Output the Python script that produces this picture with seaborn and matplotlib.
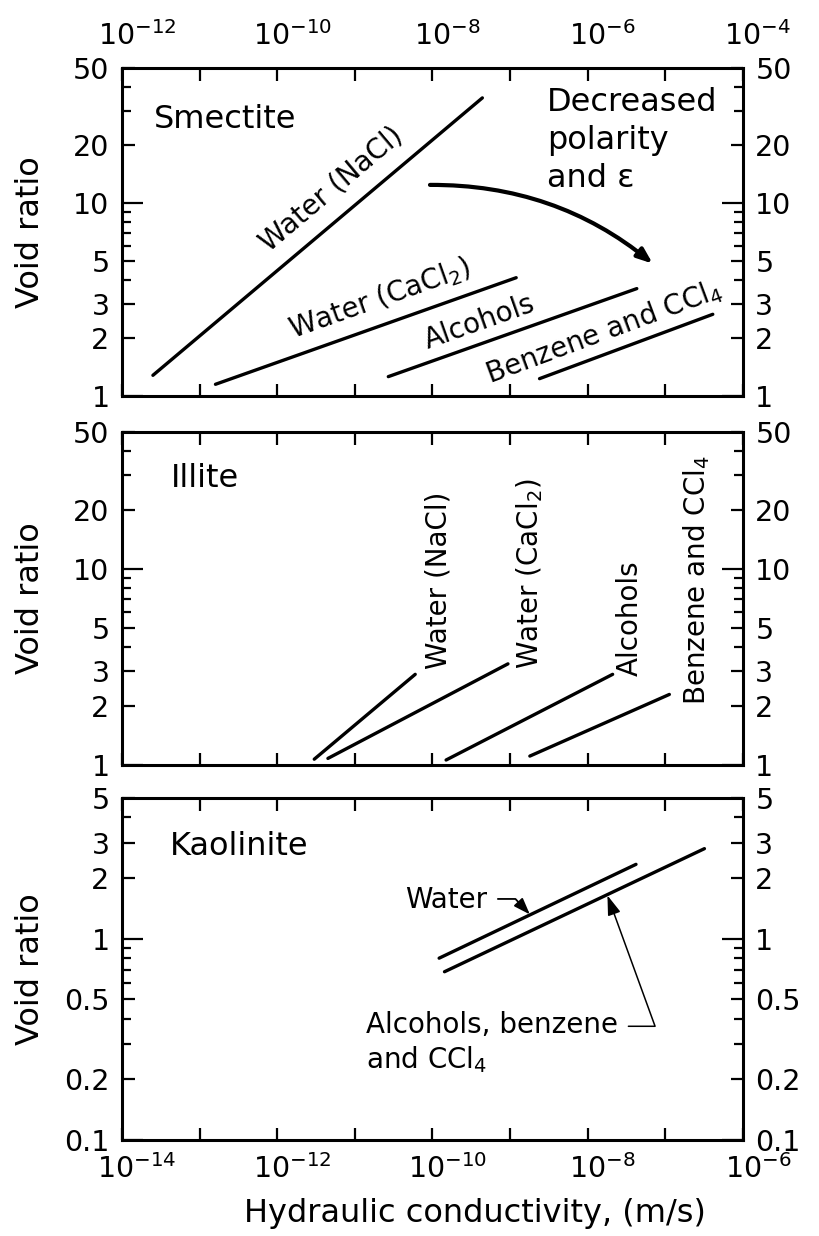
import numpy as np
import pandas as pd
import matplotlib
matplotlib.use("Agg")
import matplotlib.pyplot as plt
import matplotlib.transforms as mtransforms
from matplotlib.ticker import FixedLocator, FixedFormatter, NullFormatter
import seaborn as sns

# ---- data: hydraulic conductivity (m/s) vs void ratio, end points of each trend ----
smectite_fluids = ["Water (NaCl)", "Water (CaCl$_2$)", "Alcohols", "Benzene and CCl$_4$"]
smectite_k_low = [2.5e-12, 1.6e-11, 2.7e-9, 2.4e-7]
smectite_e_low = [1.28, 1.15, 1.26, 1.23]
smectite_k_high = [4.4e-8, 1.2e-7, 4.3e-6, 4.1e-5]
smectite_e_high = [35.0, 4.1, 3.6, 2.65]

illite_fluids = ["Water (NaCl)", "Water (CaCl$_2$)", "Alcohols", "Benzene and CCl$_4$"]
illite_k_low = [3.0e-12, 4.5e-12, 1.5e-10, 1.8e-9]
illite_e_low = [1.07, 1.08, 1.06, 1.11]
illite_k_high = [6.0e-11, 9.4e-10, 2.1e-8, 1.13e-7]
illite_e_high = [2.9, 3.28, 2.9, 2.29]

kaolinite_fluids = ["Water", "Alcohols, benzene and CCl$_4$"]
kaolinite_k_low = [1.22e-10, 1.43e-10]
kaolinite_e_low = [0.80, 0.685]
kaolinite_k_high = [4.2e-8, 3.2e-7]
kaolinite_e_high = [2.34, 2.8]

# ---- axis ticks ----
smectite_k_ticks = [1e-12, 1e-11, 1e-10, 1e-9, 1e-8, 1e-7, 1e-6, 1e-5, 1e-4]
smectite_k_labels = ["$10^{-12}$", "", "$10^{-10}$", "", "$10^{-8}$", "",
                     "$10^{-6}$", "", "$10^{-4}$"]
lower_k_ticks = [1e-14, 1e-13, 1e-12, 1e-11, 1e-10, 1e-9, 1e-8, 1e-7, 1e-6]
lower_k_labels = ["$10^{-14}$", "", "$10^{-12}$", "", "$10^{-10}$", "",
                  "$10^{-8}$", "", "$10^{-6}$"]
void_ticks_hi = [1, 2, 3, 5, 10, 20, 50]
void_labels_hi = ["1", "2", "3", "5", "10", "20", "50"]
void_minor_hi = [4, 6, 7, 8, 9, 30, 40]
void_ticks_lo = [0.1, 0.2, 0.5, 1, 2, 3, 5]
void_labels_lo = ["0.1", "0.2", "0.5", "1", "2", "3", "5"]
void_minor_lo = [0.3, 0.4, 0.6, 0.7, 0.8, 0.9, 4]

sns.set_style("white")
plt.rcParams["font.family"] = ["DejaVu Sans"]
plt.rcParams["mathtext.fontset"] = "dejavusans"
for key in ("text.color", "axes.labelcolor", "xtick.color", "ytick.color",
            "axes.edgecolor"):
    plt.rcParams[key] = "black"

fig = plt.figure(figsize=(8.19, 12.36), dpi=100)
fig.patch.set_facecolor("white")

LEFT, WIDTH = 0.149, 0.758
ax_s = fig.add_axes([LEFT, 0.6796, WIDTH, 0.2654])
ax_i = fig.add_axes([LEFT, 0.3811, WIDTH, 0.2694])
ax_k = fig.add_axes([LEFT, 0.0777, WIDTH, 0.2767])

LW = 2.4
TICK_FS = 20.5
LABEL_FS = 23
NAME_FS = 23
CURVE_FS = 20


def frame(frame_ax, xlim, ylim, yt, yl, ym):
    frame_ax.set_xscale("log")
    frame_ax.set_yscale("log")
    frame_ax.set_xlim(*xlim)
    frame_ax.set_ylim(*ylim)
    for sp in frame_ax.spines.values():
        sp.set_visible(True)
        sp.set_linewidth(2.2)
        sp.set_color("black")
    frame_ax.yaxis.set_major_locator(FixedLocator(yt))
    frame_ax.yaxis.set_major_formatter(FixedFormatter(yl))
    frame_ax.yaxis.set_minor_locator(FixedLocator(ym))
    frame_ax.yaxis.set_minor_formatter(NullFormatter())
    frame_ax.xaxis.set_minor_locator(FixedLocator([]))
    frame_ax.tick_params(axis="y", which="both", direction="in", left=True, right=True,
                         labelleft=True, labelright=True, labelsize=TICK_FS, pad=9,
                         width=1.6, color="black", labelcolor="black")
    frame_ax.tick_params(axis="y", which="major", length=9)
    frame_ax.tick_params(axis="y", which="minor", length=6.5)
    frame_ax.tick_params(axis="x", which="major", direction="in", top=True, bottom=True,
                         length=9, width=1.6, labelsize=TICK_FS, color="black",
                         labelcolor="black")
    # decade ticks on the void-ratio axis are drawn longer
    for loc, tk in zip(yt, frame_ax.yaxis.get_major_ticks()):
        if abs(np.log10(loc) - round(np.log10(loc))) < 1e-9:
            tk.tick1line.set_markersize(15)
            tk.tick2line.set_markersize(15)
    frame_ax.set_ylabel("Void ratio", fontsize=LABEL_FS, color="black")
    frame_ax.yaxis.label.set_verticalalignment("center")
    frame_ax.yaxis.set_label_coords(-0.147, 0.5)
    frame_ax.set_xlabel("")
    frame_ax.grid(False)


def draw_lines(line_ax, fluids, k0, e0, k1, e1):
    df = pd.DataFrame({
        "fluid": list(fluids) * 2,
        "k": list(k0) + list(k1),
        "e": list(e0) + list(e1),
    })
    sns.lineplot(data=df, x="k", y="e", hue="fluid", palette={f: "black" for f in fluids},
                 estimator=None, sort=False, legend=False, linewidth=LW, ax=line_ax)
    line_ax.set_xlabel("")


def line_angle(a, x0, y0, x1, y1):
    p = a.transData.transform([(x0, y0), (x1, y1)])
    return np.degrees(np.arctan2(p[1, 1] - p[0, 1], p[1, 0] - p[0, 0]))


label_shift = mtransforms.ScaledTranslation(0.15, 0, fig.dpi_scale_trans)

# ---------------- Smectite ----------------
frame(ax_s, (1e-12, 1e-4), (1, 50), void_ticks_hi, void_labels_hi, void_minor_hi)
ax_s.xaxis.set_major_locator(FixedLocator(smectite_k_ticks))
ax_s.xaxis.set_major_formatter(FixedFormatter(smectite_k_labels))
ax_s.tick_params(axis="x", labeltop=True, labelbottom=False, pad=12)
draw_lines(ax_s, smectite_fluids, smectite_k_low, smectite_e_low,
           smectite_k_high, smectite_e_high)
ax_s.text(2.6e-12, 27, "Smectite", fontsize=NAME_FS, ha="left", va="center")
ax_s.text(3.0e-7, 40, "Decreased\npolarity\nand \u03b5", fontsize=NAME_FS,
          ha="left", va="top", linespacing=1.3)
smectite_label_pos = [(5.0e-10, 11.8), (2.1e-9, 3.2), (4.1e-8, 2.4), (1.6e-6, 2.15)]
for i, (lx, ly) in enumerate(smectite_label_pos):
    ang = line_angle(ax_s, smectite_k_low[i], smectite_e_low[i],
                     smectite_k_high[i], smectite_e_high[i])
    ax_s.text(lx, ly, smectite_fluids[i], fontsize=CURVE_FS, rotation=ang,
              rotation_mode="anchor", ha="center", va="center")
ax_s.annotate("", xy=(6.9e-6, 4.85), xytext=(9.3e-9, 12.4),
              arrowprops=dict(arrowstyle="-|>,head_length=0.9,head_width=0.35",
                              connectionstyle="arc3,rad=-0.18", color="black",
                              lw=3.0, shrinkA=0, shrinkB=0))

# ---------------- Illite ----------------
frame(ax_i, (1e-14, 1e-6), (1, 50), void_ticks_hi, void_labels_hi, void_minor_hi)
ax_i.xaxis.set_major_locator(FixedLocator(lower_k_ticks))
ax_i.xaxis.set_major_formatter(NullFormatter())
ax_i.tick_params(axis="x", labeltop=False, labelbottom=False)
draw_lines(ax_i, illite_fluids, illite_k_low, illite_e_low, illite_k_high, illite_e_high)
ax_i.text(4.2e-14, 29, "Illite", fontsize=NAME_FS, ha="left", va="center")
illite_label_pos = [(1.2e-10, 3.1), (1.8e-9, 3.1), (3.5e-8, 2.86), (2.5e-7, 2.02)]
for (lx, ly), name in zip(illite_label_pos, illite_fluids):
    ax_i.text(lx, ly, name, fontsize=CURVE_FS, rotation=90, ha="center", va="bottom")

# ---------------- Kaolinite ----------------
frame(ax_k, (1e-14, 1e-6), (0.1, 5), void_ticks_lo, void_labels_lo, void_minor_lo)
ax_k.xaxis.set_major_locator(FixedLocator(lower_k_ticks))
ax_k.xaxis.set_major_formatter(FixedFormatter(lower_k_labels))
ax_k.tick_params(axis="x", labeltop=False, labelbottom=True, pad=10)
draw_lines(ax_k, kaolinite_fluids, kaolinite_k_low, kaolinite_e_low,
           kaolinite_k_high, kaolinite_e_high)
ax_k.text(4.1e-14, 2.88, "Kaolinite", fontsize=NAME_FS, ha="left", va="center")
ax_k.annotate("Water", xy=(1.8e-9, 1.32), xytext=(4.5e-11, 1.55),
              fontsize=CURVE_FS, ha="left", va="center",
              arrowprops=dict(arrowstyle="-|>,head_length=0.5,head_width=0.18",
                              connectionstyle="angle,angleA=0,angleB=133,rad=0",
                              relpos=(1.0, 0.55), color="black", lw=1.3,
                              shrinkA=5, shrinkB=0))
ax_k.annotate("Alcohols, benzene", xy=(1.8e-8, 1.64), xytext=(1.4e-11, 0.373),
              fontsize=CURVE_FS, ha="left", va="center",
              arrowprops=dict(arrowstyle="-|>,head_length=0.6,head_width=0.2",
                              connectionstyle="angle,angleA=0,angleB=-70,rad=0",
                              relpos=(1.0, 0.45), color="black", lw=1.1,
                              shrinkA=5, shrinkB=0))
ax_k.text(1.4e-11, 0.251, "and CCl$_4$", fontsize=CURVE_FS, ha="left", va="center")

# shift exponent labels so that the base "10" sits over its tick
for a in (ax_s, ax_k):
    for tk in a.xaxis.get_major_ticks():
        tk.label1.set_transform(tk.label1.get_transform() + label_shift)
        tk.label2.set_transform(tk.label2.get_transform() + label_shift)

fig.text(0.58, 0.0186, "Hydraulic conductivity, (m/s)", fontsize=LABEL_FS,
         ha="center", va="center")

fig.savefig("out.png", dpi=100, facecolor="white")
